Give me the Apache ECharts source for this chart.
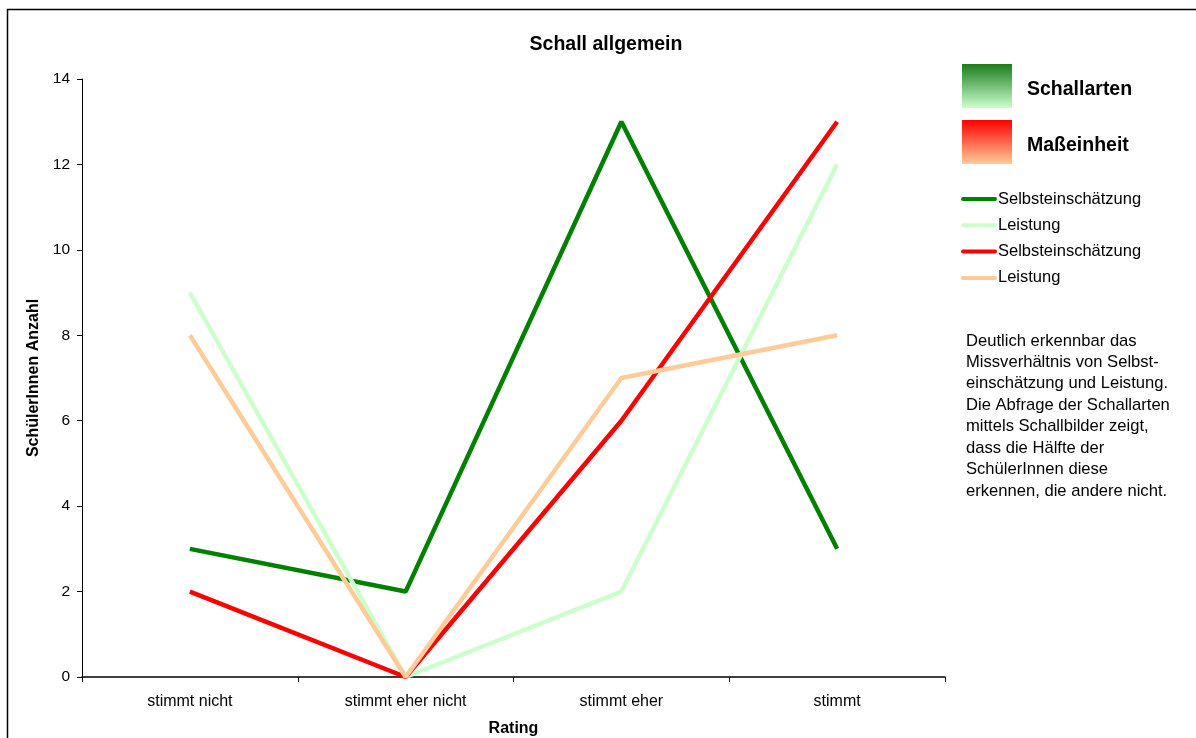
<!DOCTYPE html>
<html>
<head>
<meta charset="utf-8">
<script src="https://cdn.jsdelivr.net/npm/echarts@6/dist/echarts.min.js"></script>
<style>
html,body{margin:0;padding:0;background:#fff;}
#chart{width:1196px;height:738px;}
</style>
</head>
<body>
<div id="chart"></div>
<script>
// Categories and values
const categories = ['stimmt nicht', 'stimmt eher nicht', 'stimmt eher', 'stimmt'];
const schallSelbst = [3, 2, 13, 3];
const schallLeistung = [9, 0, 2, 12];
const massSelbst = [2, 0, 6, 13];
const massLeistung = [8, 0, 7, 8];
const seriesNames = ['Selbsteinschätzung', 'Leistung', 'Selbsteinschätzung', 'Leistung'];
const seriesColors = ['#008000', '#CCFFCC', '#FF0000', '#FFCC99'];
const groupNames = ['Schallarten', 'Maßeinheit'];
const noteLines = [
  'Deutlich erkennbar das',
  'Missverhältnis von Selbst-',
  'einschätzung und Leistung.',
  'Die Abfrage der Schallarten',
  'mittels Schallbilder zeigt,',
  'dass die Hälfte der',
  'SchülerInnen diese',
  'erkennen, die andere nicht.'
];

const FONT = '"Liberation Sans", Arial, sans-serif';
const chart = echarts.init(document.getElementById('chart'));

const allValues = [schallSelbst, schallLeistung, massSelbst, massLeistung];

const graphics = [
  // outer frame
  { type: 'rect', shape: { x: 7.5, y: 9.5, width: 1200, height: 740 },
    style: { fill: null, stroke: '#000', lineWidth: 1.5 }, silent: true, z: -1 },
  // group boxes
  { type: 'rect', shape: { x: 962, y: 64, width: 50, height: 44 },
    style: { fill: new echarts.graphic.LinearGradient(0, 0, 0, 1, [
      { offset: 0, color: '#1b7d1b' }, { offset: 1, color: '#ccffcc' }]) } },
  { type: 'text', x: 1027, y: 90, style: { text: groupNames[0], font: 'bold 19.5px ' + FONT,
    fill: '#000', textVerticalAlign: 'middle' } },
  { type: 'rect', shape: { x: 962, y: 120, width: 50, height: 44 },
    style: { fill: new echarts.graphic.LinearGradient(0, 0, 0, 1, [
      { offset: 0, color: '#ff0000' }, { offset: 1, color: '#ffcc99' }]) } },
  { type: 'text', x: 1027, y: 146, style: { text: groupNames[1], font: 'bold 19.5px ' + FONT,
    fill: '#000', textVerticalAlign: 'middle' } }
];

// series legend entries
seriesNames.forEach((n, i) => {
  const y = 199 + i * 26.3;
  graphics.push({ type: 'line', shape: { x1: 963, y1: y, x2: 995, y2: y },
    style: { stroke: seriesColors[i], lineWidth: 4, lineCap: 'round' } });
  graphics.push({ type: 'text', x: 998, y: y, style: { text: n, font: '16.5px ' + FONT,
    fill: '#000', textVerticalAlign: 'middle' } });
});

// note text
noteLines.forEach((t, i) => {
  graphics.push({ type: 'text', x: 966, y: 341 + i * 21.45, style: { text: t, font: '16.6px ' + FONT,
    fill: '#000', textVerticalAlign: 'middle' } });
});

chart.setOption({
  animation: false,
  backgroundColor: '#fff',
  title: {
    text: 'Schall allgemein', left: 601, top: 30, textAlign: 'center',
    textStyle: { fontFamily: FONT, fontWeight: 'bold', fontSize: 19.5, color: '#000' }
  },
  grid: { left: 82, top: 79, width: 863, height: 598, containLabel: false, outerBoundsMode: 'none' },
  xAxis: {
    type: 'category', data: categories, boundaryGap: true,
    name: 'Rating', nameLocation: 'middle', nameGap: 44,
    nameTextStyle: { fontFamily: FONT, fontWeight: 'bold', fontSize: 16, color: '#000' },
    axisLine: { lineStyle: { color: '#000', width: 1.5 } },
    axisTick: { show: true, alignWithLabel: false, length: 5, lineStyle: { color: '#000' } },
    axisLabel: { fontFamily: FONT, fontSize: 16, color: '#000', margin: 17 },
    splitLine: { show: false }
  },
  yAxis: {
    type: 'value', min: 0, max: 14, interval: 2,
    name: 'SchülerInnen Anzahl', nameLocation: 'middle', nameGap: 37, nameRotate: 90,
    nameTextStyle: { fontFamily: FONT, fontWeight: 'bold', fontSize: 16, color: '#000' },
    axisLine: { show: true, lineStyle: { color: '#000', width: 1 } },
    axisTick: { show: true, length: 5, lineStyle: { color: '#000' } },
    axisLabel: { fontFamily: FONT, fontSize: 15.5, color: '#000', margin: 12 },
    splitLine: { show: false }
  },
  series: allValues.map((vals, i) => ({
    name: seriesNames[i] + ' ' + (i < 2 ? groupNames[0] : groupNames[1]),
    type: 'line', data: vals, symbol: 'none',
    lineStyle: { color: seriesColors[i], width: 4.5 },
    itemStyle: { color: seriesColors[i] },
    z: 2 + i
  })),
  graphic: graphics
});
</script>
</body>
</html>
